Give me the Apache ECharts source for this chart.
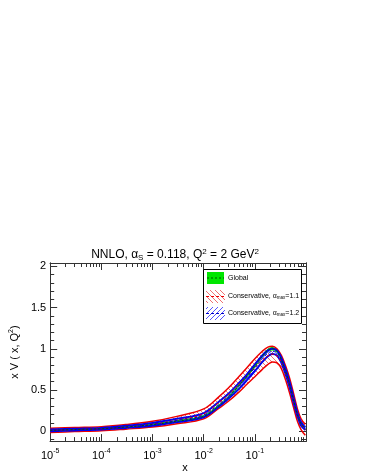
<!DOCTYPE html>
<html><head><meta charset="utf-8">
<script src="https://cdn.jsdelivr.net/npm/echarts@6/dist/echarts.min.js"></script>
<style>html,body{margin:0;padding:0;background:#fff}#c{width:366px;height:474px}</style>
</head><body><div id="c"></div>
<script>
// x grid (momentum fraction)
const xValues = [1e-5,3e-5,1e-4,3e-4,1e-3,3e-3,0.01,0.02,0.03,0.05,0.07,0.1,0.14,0.18,0.22,0.27,0.33,0.4,0.48,0.57,0.68,0.8,0.97];
// Global fit
const globalCentral = [0.01,0.02,0.03,0.05,0.08,0.12,0.18,0.31,0.41,0.56,0.67,0.79,0.91,0.98,1.0,0.97,0.87,0.72,0.56,0.38,0.2,0.09,0.03];
const globalUpper   = [0.02,0.03,0.04,0.062,0.094,0.135,0.197,0.327,0.428,0.578,0.69,0.81,0.93,1.0,1.02,0.99,0.89,0.74,0.58,0.40,0.215,0.10,0.04];
const globalLower   = [0.0,0.01,0.02,0.038,0.066,0.105,0.163,0.293,0.392,0.542,0.65,0.77,0.89,0.96,0.98,0.95,0.85,0.70,0.54,0.36,0.185,0.08,0.02];
// Conservative, alpha_max = 1.1
const cons11Central = [0.01,0.02,0.03,0.052,0.085,0.135,0.21,0.35,0.44,0.575,0.67,0.77,0.86,0.915,0.935,0.915,0.84,0.705,0.55,0.375,0.195,0.085,0.02];
const cons11Upper   = [0.035,0.045,0.055,0.08,0.12,0.18,0.27,0.42,0.52,0.67,0.77,0.88,0.97,1.02,1.03,1.0,0.92,0.79,0.64,0.46,0.27,0.15,0.085];
const cons11Lower   = [-0.015,-0.005,0.005,0.025,0.05,0.09,0.15,0.28,0.36,0.48,0.57,0.66,0.75,0.81,0.84,0.83,0.76,0.62,0.46,0.29,0.12,0.02,-0.05];
// Conservative, alpha_max = 1.2
const cons12Central = [0.01,0.02,0.03,0.052,0.082,0.13,0.195,0.33,0.42,0.555,0.655,0.77,0.88,0.945,0.968,0.95,0.86,0.72,0.56,0.38,0.2,0.09,0.03];
const cons12Upper   = [0.02,0.03,0.04,0.065,0.10,0.15,0.22,0.36,0.45,0.59,0.69,0.81,0.92,0.98,1.0,0.98,0.89,0.75,0.59,0.41,0.22,0.11,0.045];
const cons12Lower   = [0.0,0.01,0.02,0.04,0.065,0.11,0.17,0.30,0.39,0.52,0.62,0.73,0.84,0.91,0.935,0.92,0.83,0.69,0.53,0.35,0.18,0.07,0.015];
// axis ticks
const xMajorExp = [-5,-4,-3,-2,-1];
const yMajor = [0,0.5,1,1.5,2];

const FONT = 'Liberation Sans, Arial, sans-serif';

function hatch(color, dir){
  const s = 5, c = document.createElement('canvas');
  c.width = s; c.height = s;
  const g = c.getContext('2d');
  g.strokeStyle = color; g.lineWidth = 1;
  g.beginPath();
  if (dir > 0) { g.moveTo(0,0); g.lineTo(s,s); g.moveTo(-s,0); g.lineTo(s,2*s); g.moveTo(0,-s); g.lineTo(2*s,s); }
  else { g.moveTo(0,s); g.lineTo(s,0); g.moveTo(-s,s); g.lineTo(s,-s); g.moveTo(0,2*s); g.lineTo(2*s,0); }
  g.stroke();
  return c;
}
const redHatch = {image: hatch('#f07070', 1), repeat: 'repeat'};
const blueHatch = {image: hatch('#5555ff', -1), repeat: 'repeat'};
const greenFill = '#00e600';

const L = v => Math.log10(v);
// data stored as [y, log10(x)] so that stacking acts on the y dimension
const pts = arr => xValues.map((x,i) => [arr[i], L(x)]);
const diffPts = (up, lo) => xValues.map((x,i) => [up[i]-lo[i], L(x)]);
const ENC = {x:1, y:0};

const xMinor = [];
xMajorExp.forEach(n => { for (let k=2;k<=9;k++) xMinor.push(L(k)+n); });
const yMinor = [];
for (let i=-1;i<=20;i++){ const v = +(i/10).toFixed(1); if (yMajor.indexOf(v)<0) yMinor.push(v); }

const axisColor = '#333';
function xAx(pos, major, showLabel){
  return {
    type:'value', min:-5, max:0, position:pos, offset:0,
    axisLine:{show:true, onZero:false, lineStyle:{color:axisColor, width:1}},
    splitLine:{show:false},
    axisTick:{show:true, inside:true, length: major?7:4, customValues: major?xMajorExp:xMinor, lineStyle:{color:axisColor}},
    axisLabel:{show:showLabel, customValues:xMajorExp, margin:5, color:'#000', fontFamily:FONT, fontSize:11,
      formatter: v => '{b|10}{s|' + Math.round(v) + '}',
      rich:{b:{fontSize:11, fontFamily:FONT, color:'#000', padding:[4,0,0,0]}, s:{fontSize:7, fontFamily:FONT, color:'#000', padding:[0,0,6,0]}}},
    name: showLabel ? 'x' : '', nameLocation:'middle', nameGap:13,
    nameTextStyle:{fontSize:11, fontFamily:FONT, color:'#000', padding:[0,0,0,14]}
  };
}
function yAx(pos, major, showLabel){
  return {
    type:'value', min:-0.12, max:2.04, position:pos, offset:0,
    axisLine:{show:true, onZero:false, lineStyle:{color:axisColor, width:1}},
    splitLine:{show:false},
    axisTick:{show:true, inside:true, length: major?7:4, customValues: major?yMajor:yMinor, lineStyle:{color:axisColor}},
    axisLabel:{show:showLabel, customValues:yMajor, margin:4, color:'#000', fontFamily:FONT, fontSize:11},
    name: showLabel ? 'x V ( x, Q{s|2})' : '', nameLocation:'middle', nameGap:22, nameRotate:90,
    nameTextStyle:{fontSize:11, fontFamily:FONT, color:'#000', rich:{s:{fontSize:7, fontFamily:FONT, padding:[0,0,6,0]}}}
  };
}

const series = [];
const SM = 0.35;
function band(id, lo, up, fill){
  series.push({type:'line', name:id+'-base', stack:id, stackStrategy:'all', data:pts(lo), encode:ENC, symbol:'none', smooth:SM, lineStyle:{opacity:0}, silent:true, z:1});
  series.push({type:'line', name:id+'-band', stack:id, stackStrategy:'all', data:diffPts(up,lo), encode:ENC, symbol:'none', smooth:SM, lineStyle:{opacity:0}, areaStyle:{color:fill, opacity:1}, silent:true, z:1});
}
function line(arr, color, width, type, z){
  series.push({type:'line', data:pts(arr), encode:ENC, symbol:'none', smooth:SM, lineStyle:{color:color, width:width, type:type}, silent:true, z:z});
}
band('r', cons11Lower, cons11Upper, redHatch);
band('g', globalLower, globalUpper, greenFill);
band('b', cons12Lower, cons12Upper, blueHatch);
line(cons11Upper, '#ee0000', 1.5, 'solid', 3);
line(cons11Lower, '#ee0000', 1.5, 'solid', 3);
line(cons12Upper, '#0000ee', 2, 'solid', 4);
line(cons12Lower, '#0000ee', 2, 'solid', 4);
line(cons11Central, '#ee0000', 1, [3,2], 5);
line(cons12Central, '#0000cc', 1, [3,2], 5);
line(globalCentral, '#005500', 1, [2,2], 6);

const chart = echarts.init(document.getElementById('c'), null, {renderer:'canvas'});
chart.setOption({
  animation:false,
  backgroundColor:'#fff',
  title:{text:'NNLO, α{sub|S} = 0.118, Q{sup|2} = 2 GeV{sup|2}', left:170, top:243, textAlign:'center',
    textStyle:{fontSize:12, fontWeight:'normal', fontFamily:FONT, color:'#000',
      rich:{sub:{fontSize:8, fontFamily:FONT, padding:[5,0,0,0]}, sup:{fontSize:8, fontFamily:FONT, padding:[0,0,6,0]}}}},
  grid:{left:34, top:263, right:60, bottom:23, containLabel:false},
  xAxis:[xAx('bottom',true,true), xAx('bottom',false,false), xAx('top',true,false), xAx('top',false,false)],
  yAxis:[yAx('left',true,true), yAx('left',false,false), yAx('right',true,false), yAx('right',false,false)],
  series: series,
  graphic:[
    {type:'rect', z:100, shape:{x:203.5, y:269.5, width:98, height:54}, style:{fill:'#fff', stroke:'#000', lineWidth:1}},
    {type:'rect', z:101, shape:{x:207, y:272, width:17, height:12}, style:{fill:greenFill}},
    {type:'line', z:102, shape:{x1:207, y1:278, x2:224, y2:278}, style:{stroke:'#005500', lineWidth:1, lineDash:[2,2]}},
    {type:'text', z:102, x:228, y:278, style:{text:'Global', fontSize:7, fontFamily:FONT, fill:'#000', verticalAlign:'middle'}},
    {type:'rect', z:101, shape:{x:206, y:290, width:19, height:13}, style:{fill:redHatch}},
    {type:'line', z:102, shape:{x1:206, y1:296.5, x2:225, y2:296.5}, style:{stroke:'#ee0000', lineWidth:1, lineDash:[3,2]}},
    {type:'text', z:102, x:228, y:296, style:{text:'Conservative, α{s|max}=1.1', fontSize:7, fontFamily:FONT, fill:'#000', verticalAlign:'middle', rich:{s:{fontSize:4.5, fontFamily:FONT, padding:[4,0,0,0]}}}},
    {type:'rect', z:101, shape:{x:206, y:307, width:19, height:13}, style:{fill:blueHatch}},
    {type:'line', z:102, shape:{x1:206, y1:313.5, x2:225, y2:313.5}, style:{stroke:'#0000cc', lineWidth:1, lineDash:[3,2]}},
    {type:'text', z:102, x:228, y:313, style:{text:'Conservative, α{s|max}=1.2', fontSize:7, fontFamily:FONT, fill:'#000', verticalAlign:'middle', rich:{s:{fontSize:4.5, fontFamily:FONT, padding:[4,0,0,0]}}}}
  ]
});
</script>
</body></html>
